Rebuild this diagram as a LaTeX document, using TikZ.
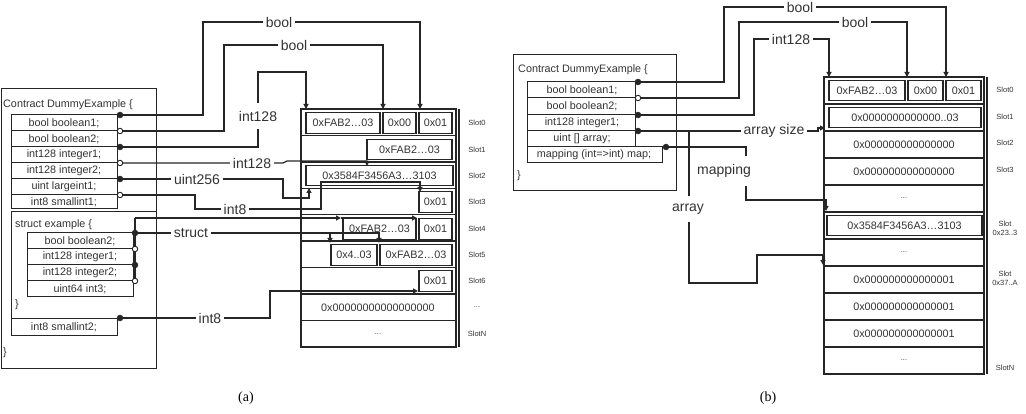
\documentclass[tikz,border=0pt]{standalone}
\usepackage{fontspec}
\setmainfont{Liberation Sans}
\newfontfamily\capfont{Liberation Serif}
\usetikzlibrary{arrows.meta}
\definecolor{ln}{gray}{0.15}
\definecolor{tx}{gray}{0.2}
\newcommand{\bt}{\fontsize{10.8}{12}\selectfont}
\newcommand{\lt}{\fontsize{14}{16}\selectfont}
\newcommand{\st}{\fontsize{7.5}{9}\selectfont}
\tikzset{
 box/.style={draw=ln, line width=1pt},
 conn/.style={draw=ln, line width=1.2pt},
 arr/.style={-{Triangle[length=5pt,width=5pt]}},
 lbl/.style={font=\lt, text=tx, fill=white, inner xsep=3pt, inner ysep=1pt},
 vlbl/.style={lbl, inner ysep=8pt},
 txt/.style={font=\bt, text=tx, inner sep=0pt},
 slt/.style={font=\st, text=tx, inner sep=0pt, align=center},
 dotf/.style={circle, fill=ln, draw=ln, inner sep=0pt, minimum size=6pt},
 doto/.style={circle, fill=white, draw=ln, line width=0.9pt, inner sep=0pt, minimum size=5.5pt},
 mb/.style={draw=ln, line width=1.2pt, font=\bt, text=tx, inner sep=0pt, minimum height=20.5pt},
 slotrow/.style={draw=ln, line width=1.4pt},
}
\begin{document}
\begin{tikzpicture}[x=1pt,y=-1pt]
\useasboundingbox (0,0) rectangle (1026,414);

% ================= (a) =================
\draw[box] (1,89) rectangle (156,368);
\node[txt,anchor=west] (ca) at (3,105) {Contract DummyExample \{};
\draw[box] (11,115) rectangle (117,209);
\foreach \y in {115,131,147,163,179,195} \draw[box] (11,\y) -- (120,\y);
\node[txt] (ra1) at (64,123) {bool boolean1;};
\node[txt] (ra2) at (64,139) {bool boolean2;};
\node[txt] (ra3) at (64,155) {int128 integer1;};
\node[txt] (ra4) at (64,171) {int128 integer2;};
\node[txt] (ra5) at (64,187) {uint largeint1;};
\node[txt] (ra6) at (64,202) {int8 smallint1;};
% struct
\draw[box] (11,212) rectangle (156,318);
\node[txt,anchor=west] (sx) at (15,225) {struct example \{};
\draw[box] (27,233) rectangle (133,297);
\foreach \y in {233,249,265,281} \draw[box] (27,\y) -- (135,\y);
\node[txt] (rs1) at (80,241) {bool boolean2;};
\node[txt] (rs2) at (80,257) {int128 integer1;};
\node[txt] (rs3) at (80,273) {int128 integer2;};
\node[txt] (rs4) at (80,289) {uint64 int3;};
\node[txt,anchor=west] (sc) at (15,305) {\}};
\draw[box] (11,318) rectangle (117,335);
\node[txt] (ra7) at (64,327) {int8 smallint2;};
\node[txt,anchor=west] (cc) at (3,353) {\}};

% storage (a)
\foreach \i in {0,...,8} \draw[slotrow] (301,{109+26.44*\i}) rectangle (456,{109+26.44*(\i+1)});
\draw[slotrow] (459,109) -- (459,347);
\node[mb,minimum width=74pt] (a00) at (343,123) {0xFAB2…03};
\node[mb,minimum width=33pt] (a01) at (399.5,123) {0x00};
\node[mb,minimum width=33pt] (a02) at (435.5,123) {0x01};
\node[mb,minimum width=85pt] (a10) at (409.5,149.5) {0xFAB2…03};
\node[mb,minimum width=147pt] (a20) at (379.5,175.5) {0x3584F3456A3…3103};
\node[mb,minimum width=33pt] (a30) at (435.5,202) {0x01};
\node[mb,minimum width=73pt] (a40) at (379.5,229) {0xFAB2…03};
\node[mb,minimum width=33pt] (a41) at (435.5,229) {0x01};
\node[mb,minimum width=46pt] (a50) at (354,255) {0x4..03};
\node[mb,minimum width=72pt] (a51) at (416,255) {0xFAB2…03};
\node[mb,minimum width=33pt] (a60) at (435.5,281) {0x01};
\node[txt] (a70) at (378,308) {0x00000000000000000};
\node[slt] (a80) at (378,334) {...};
\node[slt] (la0) at (477,123) {Slot0};
\node[slt] (la1) at (477,150) {Slot1};
\node[slt] (la2) at (477,176) {Slot2};
\node[slt] (la3) at (477,202) {Slot3};
\node[slt] (la4) at (477,229) {Slot4};
\node[slt] (la5) at (477,255) {Slot5};
\node[slt] (la6) at (477,281) {Slot6};
\node[slt] (la7) at (477,307) {...};
\node[slt] (la8) at (477,334) {SlotN};

% connectors (a)
\coordinate (ta1) at (420,109);
\coordinate (ta2) at (383,109);
\coordinate (ta3) at (306,109);
\coordinate (ta4) at (367,166);
\coordinate (ta5) at (309,188);
\coordinate (ta6) at (420,192);
\coordinate (ta7) at (341,218);
\coordinate (ta8) at (417,218);
\coordinate (ta9) at (330,243);
\coordinate (ta10) at (379,243);
\coordinate (ta11) at (418,291);
\coordinate (sv) at (135,218);
\draw[conn,arr] (120,115) -- (203,115) -- (203,22) -- (420,22) -- (ta1);
\draw[conn,arr] (120,131) -- (224,131) -- (224,45) -- (383,45) -- (ta2);
\draw[conn,arr] (120,147) -- (258,147) -- (258,72) -- (306,72) -- (ta3);
\draw[conn,arr] (120,163) -- (283,163) -- (287,161) -- (367,161) -- (ta4);
\draw[conn,arr] (120,179) -- (283,179) -- (283,198) -- (309,198) -- (ta5);
\draw[conn,arr] (120,195) -- (195,195) -- (195,209) -- (321,209) -- (321,182) -- (420,182) -- (ta6);
\draw[conn] (135,281) -- (sv);
\draw[conn,arr] (sv) -- (ta7);
\draw[conn,arr] (ta7) -- (ta8);
\draw[conn,arr] (135,233) -- (379,233) -- (ta10);
\draw[conn,arr] (330,233) -- (ta9);
\draw[conn,arr] (120,318) -- (270,318) -- (270,291) -- (ta11);

\node[dotf] (da1) at (120,115) {};
\node[doto] (da2) at (120,131) {};
\node[dotf] (da3) at (120,147) {};
\node[doto] (da4) at (120,163) {};
\node[dotf] (da5) at (120,179) {};
\node[doto] (da6) at (120,195) {};
\node[dotf] (ds1) at (135,233) {};
\node[doto] (ds2) at (135,249) {};
\node[dotf] (ds3) at (135,265) {};
\node[doto] (ds4) at (135,281) {};
\node[dotf] (da7) at (120,318) {};

\node[lbl] (lb1) at (279,22) {bool};
\node[lbl] (lb2) at (294,45) {bool};
\node[vlbl] (lb3) at (258,116) {int128};
\node[lbl] (lb4) at (252,163) {int128};
\node[lbl] (lb5) at (197,179) {uint256};
\node[lbl] (lb6) at (235,209) {int8};
\node[lbl] (lb7) at (191,233) {struct};
\node[lbl] (lb8) at (210,318) {int8};

% ================= (b) =================
\draw[box] (513,55) rectangle (676,191);
\node[txt,anchor=west] (cb) at (518,70) {Contract DummyExample \{};
\draw[box] (527,82) rectangle (635,147);
\foreach \y in {82,98,115,131} \draw[box] (527,\y) -- (638,\y);
\draw[box] (527,147) rectangle (662,163);
\draw[box] (527,147) -- (666,147);
\node[txt] (rb1) at (582,90) {bool boolean1;};
\node[txt] (rb2) at (582,106) {bool boolean2;};
\node[txt] (rb3) at (582,123) {int128 integer1;};
\node[txt] (rb4) at (582,139) {uint [] array;};
\node[txt] (rb5) at (594,155) {mapping (int=>int) map;};
\node[txt,anchor=west] (cbe) at (517,176) {\}};

% storage (b)
\foreach \i in {0,...,10} \draw[slotrow] (824,{77+27*\i}) rectangle (984,{77+27*(\i+1)});
\draw[slotrow] (987,77) -- (987,374);
\node[mb,minimum width=76pt] (b00) at (867,90.5) {0xFAB2…03};
\node[mb,minimum width=35pt] (b01) at (925.5,90.5) {0x00};
\node[mb,minimum width=35pt] (b02) at (963.5,90.5) {0x01};
\node[mb,minimum width=152pt] (b10) at (905,117.5) {0x0000000000000..03};
\node[txt] (b20) at (904,144.5) {0x000000000000000};
\node[txt] (b30) at (904,171.5) {0x000000000000000};
\node[slt] (b40) at (904,198.5) {...};
\node[mb,minimum width=155pt] (b50) at (904.5,225.5) {0x3584F3456A3…3103};
\node[slt] (b60) at (904,252.5) {...};
\node[txt] (b70) at (904,279.5) {0x000000000000001};
\node[txt] (b80) at (904,306.5) {0x000000000000001};
\node[txt] (b90) at (904,333.5) {0x000000000000001};
\node[slt] (b100) at (904,360.5) {...};
\node[slt] (lc0) at (1005,90) {Slot0};
\node[slt] (lc1) at (1005,117) {Slot1};
\node[slt] (lc2) at (1005,143) {Slot2};
\node[slt] (lc3) at (1005,170) {Slot3};
\node[slt] (lc5) at (1005,228) {Slot\\0x23..3};
\node[slt] (lc7) at (1005,278) {Slot\\0x37..A};
\node[slt] (lc10) at (1005,368) {SlotN};

% connectors (b)
\coordinate (tb1) at (946,77);
\coordinate (tb2) at (907,77);
\coordinate (tb3) at (829,77);
\coordinate (tb4) at (825,128);
\coordinate (tb5) at (826,211);
\coordinate (tb6) at (823,265);
\coordinate (abr) at (689,131);
\draw[conn,arr] (638,82) -- (724,82) -- (724,7) -- (946,7) -- (tb1);
\draw[conn,arr] (638,98) -- (739,98) -- (739,22) -- (907,22) -- (tb2);
\draw[conn,arr] (638,115) -- (754,115) -- (754,39) -- (829,39) -- (tb3);
\draw[conn,arr] (638,131) -- (818,131) -- (818,128) -- (tb4);
\draw[conn,arr] (666,147) -- (746,147) -- (746,200) -- (826,200) -- (tb5);
\draw[conn,arr] (abr) -- (689,283) -- (757,283) -- (757,255) -- (823,255) -- (tb6);

\node[dotf] (db1) at (638,82) {};
\node[doto] (db2) at (638,98) {};
\node[dotf] (db3) at (638,115) {};
\node[dotf] (db4) at (638,131) {};
\node[dotf] (db5) at (666,147) {};

\node[lbl] (lc1b) at (800,7.5) {bool};
\node[lbl] (lc2b) at (855,22) {bool};
\node[lbl] (lc3b) at (791,39) {int128};
\node[lbl] (lc4b) at (774,131) {array size};
\node[vlbl] (lc5b) at (724,171) {mapping};
\node[vlbl] (lc6b) at (688,209) {array};

% captions
\node[font=\capfont\fontsize{14}{16}\selectfont] (capa) at (246,398) {(a)};
\node[font=\capfont\fontsize{14}{16}\selectfont] (capb) at (768,398) {(b)};
\end{tikzpicture}
\end{document}
